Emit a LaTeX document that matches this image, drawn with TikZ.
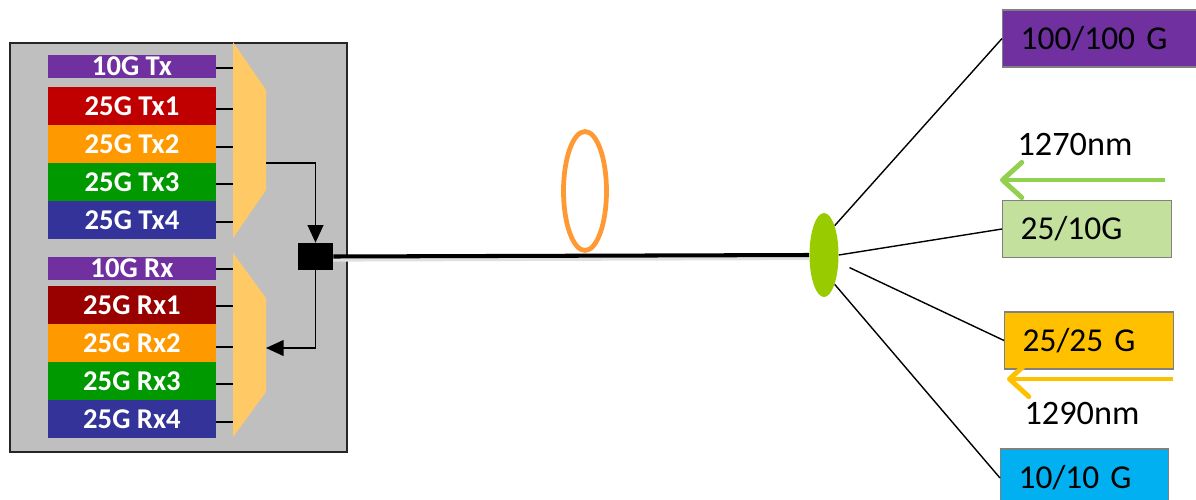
\documentclass[tikz,border=0pt]{standalone}
\usepackage{fontspec}
\setmainfont{Carlito}
\usetikzlibrary{shapes.geometric,arrows.meta}

\definecolor{lanePurple}{HTML}{7030A0}
\definecolor{laneRedTx}{HTML}{C00000}
\definecolor{laneRedRx}{HTML}{990000}
\definecolor{laneOrange}{HTML}{FF9900}
\definecolor{laneGreen}{HTML}{009900}
\definecolor{laneBlue}{HTML}{333399}
\definecolor{moduleGray}{HTML}{BFBFBF}
\definecolor{muxOrange}{HTML}{FFC966}
\definecolor{ringOrange}{HTML}{FF9933}
\definecolor{couplerGreen}{HTML}{99CC00}
\definecolor{clientGreen}{HTML}{C3E19C}
\definecolor{clientAmber}{HTML}{FFC000}
\definecolor{clientCyan}{HTML}{00B0F0}
\definecolor{arrowGreen}{HTML}{92D050}

\begin{document}
\begin{tikzpicture}[x=0.02cm, y=-0.02cm, >={Triangle[length=10pt,width=9pt]},
    lane/.style={fill=#1, text=white, font=\bfseries\fontsize{16.3}{18}\selectfont,
        minimum width=3.36cm, minimum height=0.76cm, inner sep=0pt},
    thinlane/.style={lane=#1, minimum height=0.46cm},
    client/.style={draw=gray, line width=0.8pt, fill=#1, anchor=west,
        minimum height=1.14cm, inner xsep=0.36cm, align=left,
        font=\fontsize{19}{23}\selectfont},
    wire/.style={line width=0.8pt},
    lambda/.style={line width=2.8pt, -{Straight Barb[length=11pt,width=20pt,round]}}]

    % Moldura da figura
    \useasboundingbox (0,0) rectangle (1196,500);

    % --- Modulo transceptor ---
    \draw[fill=moduleGray, line width=1.2pt, draw=black!85] (10,43) rectangle (347,452);

    % Faixas de transmissao
    \node[thinlane=lanePurple] (tx0) at (132,66.5) {10G Tx};
    \node[lane=laneRedTx]  (tx1) at (132,106) {25G Tx1};
    \node[lane=laneOrange] (tx2) at (132,144) {25G Tx2};
    \node[lane=laneGreen]  (tx3) at (132,182) {25G Tx3};
    \node[lane=laneBlue]   (tx4) at (132,220) {25G Tx4};

    % Faixas de recepcao
    \node[thinlane=lanePurple] (rx0) at (132,268.5) {10G Rx};
    \node[lane=laneRedRx]  (rx1) at (132,305) {25G Rx1};
    \node[lane=laneOrange] (rx2) at (132,343) {25G Rx2};
    \node[lane=laneGreen]  (rx3) at (132,381) {25G Rx3};
    \node[lane=laneBlue]   (rx4) at (132,419) {25G Rx4};

    % Multiplexadores (trapezios)
    \fill[muxOrange] (233,42) -- (266,90) -- (266,190) -- (233,238) -- cycle;
    \fill[muxOrange] (233,253) -- (266,298) -- (266,392) -- (233,437) -- cycle;

    % Ligacoes faixa -> mux
    \draw[wire] (tx0.east) ++(0,1.5) -- ++(17,0);
    \draw[wire] (tx1.east) ++(0,3) -- ++(17,0);
    \draw[wire] (tx2.east) ++(0,3) -- ++(17,0);
    \draw[wire] (tx3.east) ++(0,2) -- ++(17,0);
    \draw[wire] (tx4.east) ++(0,2) -- ++(17,0);
    \draw[wire] (rx0.east) ++(0,0.5) -- ++(17,0);
    \draw[wire] (rx1.east) ++(0,1) -- ++(17,0);
    \draw[wire] (rx2.east) ++(0,4) -- ++(17,0);
    \draw[wire] (rx3.east) ++(0,3) -- ++(17,0);
    \draw[wire] (rx4.east) ++(0,3) -- ++(17,0);

    % Divisor (quadrado preto)
    \node[fill=black, minimum width=0.7cm, minimum height=0.54cm, inner sep=0pt]
        (split) at (315.5,256.5) {};
    \coordinate (muxTxOut) at (266,163);
    \coordinate (muxRxIn) at (266,348);
    \draw[wire, ->] (muxTxOut) -| (split.north);
    \draw[wire, ->] (split.south) |- (muxRxIn);

    % --- Fibra ---
    \node[ellipse, fill=couplerGreen, minimum width=0.58cm, minimum height=1.68cm,
        inner sep=0pt] (coupler) at (824,255) {};
    \draw[black!12, line width=2.6pt] ([yshift=-1.6pt]split.east) -- ([yshift=-1.6pt]coupler.west);
    \draw[line width=2.3pt] (split.east) -- (coupler.west);
    \node[ellipse, draw=ringOrange, line width=2.7pt, minimum width=0.86cm,
        minimum height=2.38cm, inner sep=0pt] (ring) at (585,191) {};

    % --- Clientes ---
    \node[client=lanePurple, text width=3.2cm] (c100) at (1002,38.5) {100/100 G};
    \node[client=clientGreen, text width=2.66cm] (c25a) at (1002,229) {25/10G};
    \node[client=clientAmber, text width=2.66cm] (c25b) at (1004,340.5) {25/25 G};
    \node[client=clientCyan, text width=2.64cm, minimum height=1.16cm] (c10) at (1000,478) {10/10 G};

    \draw[wire] (coupler.70) -- (c100.west);
    \draw[wire] (coupler.east) -- (c25a.west);
    \draw[wire, shorten <=0.24cm] (coupler.-27) -- (c25b.west);
    \draw[wire] (coupler.-70) -- (c10.west);

    % Comprimentos de onda
    \coordinate (up1) at (1165,180);
    \coordinate (up2) at (1000,180);
    \coordinate (dn1) at (1173,379);
    \coordinate (dn2) at (1007,379);
    \draw[lambda, arrowGreen] (up1) -- (up2);
    \draw[lambda, clientAmber] (dn1) -- (dn2);
    \node[font=\fontsize{19.5}{23}\selectfont] (wl1) at (1075,145) {1270nm};
    \node[font=\fontsize{19.5}{23}\selectfont] (wl2) at (1082,413) {1290nm};

\end{tikzpicture}
\end{document}
